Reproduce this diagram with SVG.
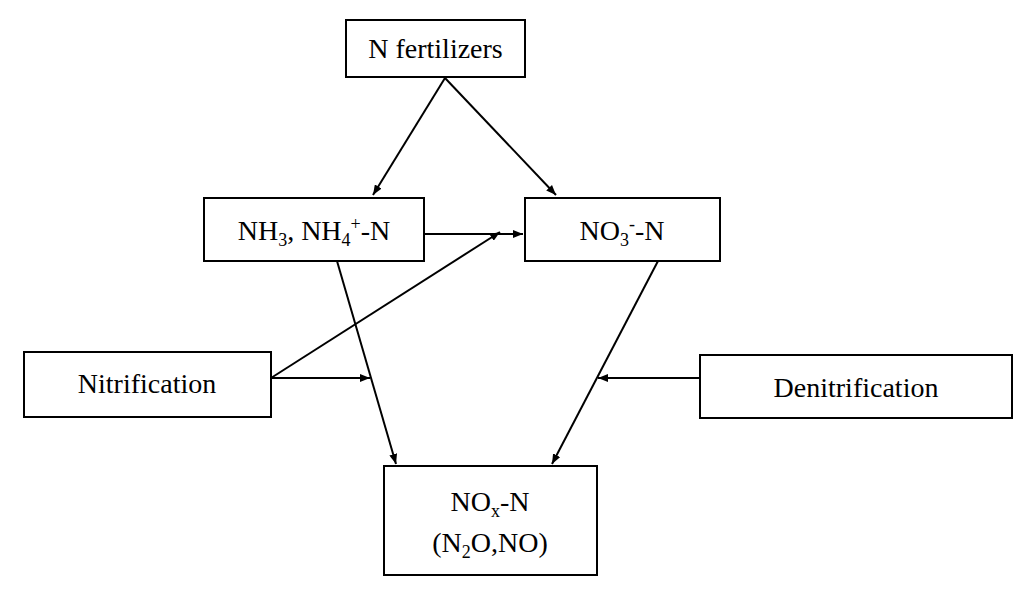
<svg xmlns="http://www.w3.org/2000/svg" width="1024" height="591" viewBox="0 0 1024 591">
<style>
.b{fill:#fff;stroke:#000;stroke-width:2}
.t{font-family:"Liberation Serif",serif;font-size:28px;fill:#000;text-anchor:middle}
.c line{stroke:#000;stroke-width:2;marker-end:url(#a)}
</style>
<defs><marker id="a" markerWidth="10" markerHeight="8" refX="10" refY="4" orient="auto" markerUnits="userSpaceOnUse" viewBox="0 0 10 8"><path d="M0,0L10,4L0,8z" fill="#000"/></marker></defs>
<rect width="1024" height="591" fill="#fff"/>
<g id="fert"><rect class="b" x="346" y="20" width="179" height="57"/><text class="t" x="435.5" y="58">N fertilizers</text></g>
<g id="nh"><rect class="b" x="204" y="198" width="220" height="63"/><text class="t" x="314" y="240">NH<tspan font-size="18" dy="6">3</tspan><tspan dy="-6">, NH</tspan><tspan font-size="18" dy="6">4</tspan><tspan font-size="18" dy="-16">+</tspan><tspan dy="10">-N</tspan></text></g>
<g id="no3"><rect class="b" x="525" y="198" width="195" height="63"/><text class="t" x="622" y="240">NO<tspan font-size="18" dy="6">3</tspan><tspan font-size="18" dy="-16">-</tspan><tspan dy="10">-N</tspan></text></g>
<g id="nit"><rect class="b" x="24" y="352" width="247" height="65"/><text class="t" x="147" y="393">Nitrification</text></g>
<g id="den"><rect class="b" x="700" y="355" width="312" height="63"/><text class="t" x="856" y="397">Denitrification</text></g>
<g id="nox"><rect class="b" x="384" y="466" width="213" height="109"/><text class="t" x="490" y="511">NO<tspan font-size="18" dy="6">x</tspan><tspan dy="-6">-N</tspan></text><text class="t" x="490" y="552">(N<tspan font-size="18" dy="6">2</tspan><tspan dy="-6">O,NO)</tspan></text></g>
<g class="c">
<line x1="445" y1="78" x2="373" y2="195"/>
<line x1="445" y1="78" x2="556" y2="195"/>
<line x1="424" y1="234" x2="523" y2="234"/>
<line x1="271" y1="378" x2="500" y2="232"/>
<line x1="271" y1="378" x2="370" y2="378"/>
<line x1="337" y1="261" x2="396" y2="464"/>
<line x1="658" y1="261" x2="552" y2="464"/>
<line x1="700" y1="378" x2="598" y2="378"/>
</g>
</svg>
